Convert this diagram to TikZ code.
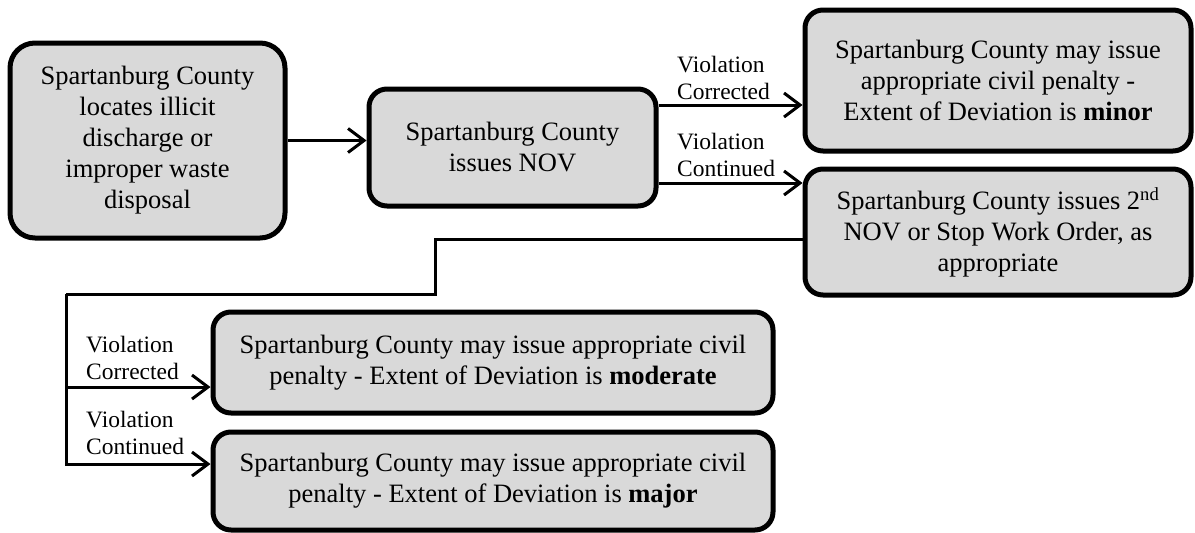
\documentclass[tikz,border=0pt]{standalone}
\usepackage{fontspec}
\setmainfont{Liberation Serif}
\usetikzlibrary{arrows.meta}
\definecolor{boxgray}{RGB}{217,217,217}

\begin{document}
\begin{tikzpicture}[x=1pt,y=-1pt,
	box/.style={draw,line width=5pt,fill=boxgray,rounded corners=18pt,align=center,inner sep=0pt,font=\fontsize{26.5}{31}\selectfont},
	lbl/.style={anchor=west,align=left,inner sep=0pt,font=\fontsize{23.5}{27.5}\selectfont},
	link/.style={line width=3pt},
	arr/.style={link,-{Straight Barb[length=16pt,width=24pt]}}]
			% Enforcement flow
			\useasboundingbox (0,0) rectangle (1195,533);
			\node[box,rounded corners=25pt,minimum width=275pt,minimum height=195pt] (Locate) at (147.5,140.5) {Spartanburg County\\locates illicit\\discharge or\\improper waste\\disposal};
			\node[box,minimum width=287pt,minimum height=117pt] (IssueNOV) at (512.5,147.5) {Spartanburg County\\issues NOV};
			\node[box,minimum width=386pt,minimum height=141pt] (MinorPenalty) at (998,80.5) {Spartanburg County may issue\\appropriate civil penalty -\\Extent of Deviation is \textbf{minor}};
			\node[box,minimum width=386pt,minimum height=126pt] (SecondNOV) at (998,232) {Spartanburg County issues 2\textsuperscript{nd}\\NOV or Stop Work Order, as\\appropriate};
			\node[box,minimum width=560pt,minimum height=101pt] (ModeratePenalty) at (493,362.5) {Spartanburg County may issue appropriate civil\\penalty - Extent of Deviation is \textbf{moderate}};
			\node[box,minimum width=560pt,minimum height=98pt] (MajorPenalty) at (493,481) {Spartanburg County may issue appropriate civil\\penalty - Extent of Deviation is \textbf{major}};
			
			\node[lbl] (CorrTop) at (677,78) {Violation\\Corrected};
			\node[lbl] (ContTop) at (677,155) {Violation\\Continued};
			\node[lbl] (CorrLow) at (86,358) {Violation\\Corrected};
			\node[lbl] (ContLow) at (86,433) {Violation\\Continued};
			
			\coordinate (CorrOut) at ([yshift=42.5pt]IssueNOV.east);
			\coordinate (ContOut) at ([yshift=-35.5pt]IssueNOV.east);
			\coordinate (Bend) at (435,294);
			\coordinate (Trunk) at (66,294);
			\coordinate (ModIn) at ([yshift=-24.5pt]ModeratePenalty.west);
			\coordinate (MajIn) at ([yshift=17pt]MajorPenalty.west);
			
			\draw[arr] (Locate.east) -- (Locate.east -| IssueNOV.west);
			\draw[arr] (CorrOut) -- (CorrOut -| MinorPenalty.west);
			\draw[arr] (ContOut) -- (ContOut -| SecondNOV.west);
			\draw[link] ([yshift=-7pt]SecondNOV.west) -| (Bend) -- (Trunk);
			\draw[arr] (Trunk) |- (MajIn);
			\draw[arr] (Trunk |- ModIn) -- (ModIn);
			
\end{tikzpicture}
\end{document}
